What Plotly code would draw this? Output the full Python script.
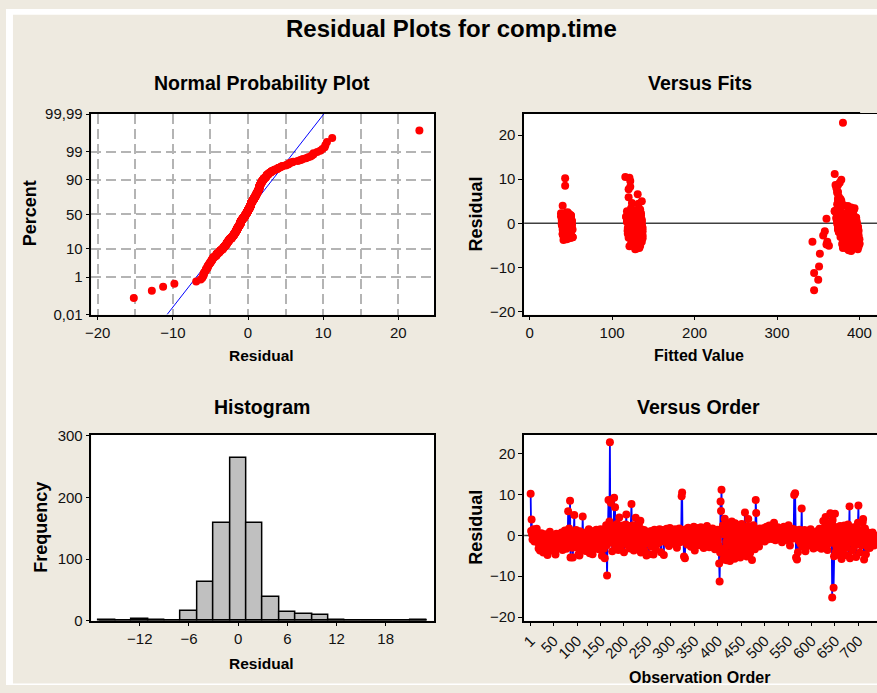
import plotly.graph_objects as go
from statistics import NormalDist, mean, stdev

# ---------------- data ----------------
residuals = [
    10.2, 1.1, 3.9, 0.3, -1.0, 0.8, 1.5, -0.3, -1.5, 0.2, 1.2, -0.9, -0.1, 1.6, -1.4, -0.4,
    -1.8, -3.2, -1.1, -0.2, -3.7, -2.2, -0.8, 0.5, -2.8, -1.5, 0.0, -4.2, -2.0, -0.7, -2.5, 0.3,
    -1.6, -3.0, -0.5, -1.3, -4.8, -1.9, 0.1, -2.6, -1.0, 0.9, -2.1, -3.4, -1.2, -0.3, -1.7, -2.9,
    -0.1, -1.4, -3.9, -0.7, -2.2, -4.7, -1.0, 0.4, -2.7, -1.5, -0.4, -1.3, -3.1, -1.8, 0.2, -0.9,
    -2.4, -1.5, 0.7, -1.1, -3.6, -1.9, -0.5, -2.8, -0.8, 1.2, -1.6, -1.2, -3.3, -0.2, -2.0, -0.6,
    5.9, -1.3, 1.7, -2.6, 8.5, -5.4, 0.4, -1.7, 0.0, -3.0, -5.4, -1.0, 0.6, 5.0, -2.1, -0.5,
    -1.5, 1.3, -1.1, -2.9, 0.3, -1.8, -4.6, -0.7, -4.9, 1.0, -1.2, -2.2, -0.1, -3.2, -0.9, 4.6,
    -1.0, 0.5, -2.5, -1.3, 0.1, -3.8, -1.5, 0.8, -0.8, -2.8, -0.4, -1.9, 1.5, -1.1, -4.4, -0.2,
    -1.4, -2.7, 0.4, -1.0, -4.6, 0.2, -1.7, 1.1, -0.7, -3.1, -0.3, -1.5, 1.4, -1.0, -2.2, 0.3,
    -0.9, -3.4, 0.7, -1.8, -0.6, 1.5, -2.6, -1.2, -5.0, 0.0, -1.6, 0.4, -3.3, -0.8, -5.6, 1.0,
    -1.3, 2.5, -2.4, -9.8, -0.1, 2.0, 8.7, 0.5, 3.4, 22.8, 0.0, 8.0, -1.8, 1.8, -3.9, 1.2,
    -1.0, 2.3, 9.2, 0.3, 6.9, -3.0, 1.6, -0.8, 2.8, -2.0, 0.6, -3.6, 2.1, 4.4, -1.2, 0.9,
    -2.7, 1.9, -0.2, -1.5, 2.4, -0.7, 1.1, -4.1, 1.5, 0.1, -1.9, 2.7, 5.1, -1.0, 0.7, -2.4,
    1.7, -0.5, -1.6, 2.3, -3.2, 0.4, -0.9, 7.7, 1.3, -2.2, 0.2, 2.5, -3.7, 0.8, -1.1, 1.8,
    4.3, -1.4, -0.3, 1.4, -2.9, 1.0, -0.8, 2.8, -1.7, 0.3, 3.6, -4.2, 1.5, -1.3, -0.1, -2.5,
    0.6, -1.0, 1.3, -3.8, 0.0, -2.1, 0.4, -4.9, -0.4, -1.5, 0.9, -1.1, -4.6, 0.3, -1.8, -0.2,
    -0.7, 1.1, -2.8, 0.1, -1.3, 0.5, -4.7, -0.5, 1.4, -1.5, -0.1, -3.3, 0.7, -0.9, 0.2, -2.0,
    1.2, -1.0, -0.3, 1.5, -1.6, 0.3, -4.1, 0.8, -0.6, 0.0, 1.3, -1.4, -4.8, 0.4, -0.5, 1.0,
    -1.2, -0.2, 1.6, -1.9, 0.4, -0.8, 1.1, -2.6, 0.1, 1.8, -1.0, 0.6, -1.5, -0.4, 1.4, -1.3,
    0.9, -0.7, 0.2, -2.1, 1.5, -0.1, -1.1, 0.5, -3.0, 0.3, 1.2, -0.9, -0.5, 1.7, -1.7, 0.0,
    0.7, -0.6, 9.6, 10.5, -0.3, 1.3, -1.5, -5.2, 0.2, -5.6, 1.0, -1.0, 1.5, -0.5, -2.2, 0.4,
    1.9, -0.8, 0.3, -1.8, 1.1, -0.2, -2.8, 1.4, -1.2, 0.6, -0.4, -1.5, 2.1, 0.0, -3.7, 0.8,
    -0.9, 1.5, 0.1, -2.0, 0.4, 1.8, -1.3, -0.3, 1.2, -2.4, -0.1, 2.0, -1.0, 0.5, -1.6, -0.5,
    1.3, -3.1, 0.2, 0.8, -1.0, 1.6, -1.4, -0.2, 2.3, -2.1, 0.4, -0.7, 1.0, -2.9, 0.0, 1.5,
    -1.1, 0.6, -1.7, -0.4, 1.7, -2.6, 0.3, -0.9, 0.9, -3.4, -0.1, 0.4, -1.9, -0.5, 1.4, -1.2,
    0.7, -2.5, -6.9, -11.3, -4.2, 8.3, 6.0, 11.2, 1.6, -4.3, 2.4, -5.9, 0.2, -3.3, 4.1, -5.1,
    1.8, -1.6, -6.1, 2.7, -1.0, 1.2, -4.4, 2.0, -2.6, -6.3, -0.2, 3.1, -2.0, 3.4, -5.3, 0.5,
    -3.6, 1.5, -1.3, -5.7, 3.0, 0.0, -3.0, 1.0, -5.0, 2.1, -1.8, -0.4, -4.2, 2.5, -0.8, -5.4,
    1.1, -2.8, 2.8, -1.5, -4.7, 1.5, -0.1, -3.8, 0.6, 5.6, -2.2, 1.9, -1.1, -5.2, 0.3, 2.3,
    4.0, -3.2, 0.8, -0.9, -4.3, 1.6, -1.7, 0.1, -6.0, 0.4, -2.4, 2.5, -1.2, 1.2, -3.4, -0.3,
    8.7, 5.5, 0.2, -1.9, 1.4, -1.0, 0.7, -2.7, 0.0, 1.7, -0.5, 1.0, -1.3, 1.5, 0.4, -0.7,
    1.1, 0.1, 1.8, -1.5, 0.5, 1.3, -0.2, 2.1, 0.8, -1.0, 0.4, 1.5, 0.2, 2.4, 0.9, -0.3,
    1.4, 0.4, -0.9, 1.9, 0.7, 0.0, 1.2, 3.1, 0.3, 1.6, -1.2, 0.6, 1.3, -0.4, 1.0, 2.0,
    -0.1, 0.8, 1.5, -0.6, 0.4, 1.7, 0.2, 1.1, -1.7, 1.4, 0.5, -0.2, 2.1, 0.9, -0.5, 1.5,
    0.4, -1.1, 1.2, 1.8, 0.0, 0.7, 2.5, -0.4, 1.0, -2.5, 1.3, 0.3, 0.6, 1.6, -0.8, 0.4,
    0.1, 1.5, 9.9, 0.8, 10.3, -0.7, -5.4, 0.4, -5.9, -0.2, -4.1, 1.1, -1.4, 1.4, -1.0, 0.3,
    -2.1, 0.6, 6.6, -0.4, -2.8, 0.9, -1.2, -0.1, 1.3, -1.6, -3.9, 0.2, 1.0, -1.0, -2.6, 0.4,
    -0.5, -1.8, 1.2, -1.3, 0.0, 1.5, -2.4, -0.3, 0.5, -1.5, 0.3, -3.2, 0.8, -0.9, 0.1, -2.0,
    0.7, -0.7, -2.9, 0.2, 1.1, -1.6, -0.5, -1.1, 1.6, -2.2, -0.1, 0.4, -3.3, -0.3, 0.9, -1.0,
    3.5, -1.5, 1.9, -0.2, -2.7, 4.5, 0.4, -1.0, 2.7, -3.6, 0.3, 1.4, -1.9, 3.0, -0.4, 5.4,
    -1.3, 1.7, 1.0, -15.2, 3.8, -1.8, -12.8, -5.1, 2.1, 5.3, -4.2, 0.0, -2.8, 1.1, -0.9, -3.8,
    1.5, -1.4, -4.8, 0.2, 2.3, -2.5, 0.8, -5.8, -0.5, 1.8, -3.4, 0.5, -1.0, 2.4, -2.2, -4.8,
    0.3, 1.6, -3.0, 0.7, -0.8, 2.7, -5.0, -0.1, 7.1, -5.6, 1.2, -1.7, -0.4, 1.3, -3.7, 0.4,
    -1.2, 2.0, -2.7, 0.0, 1.0, -1.8, -5.3, -0.3, 1.5, -1.1, 3.1, 7.3, -1.5, 0.4, -4.2, -0.2,
    1.3, -2.4, 0.6, -1.0, 3.2, 4.0, -2.0, -5.9, 0.2, 1.7, -1.5, -4.6, 0.9, -0.5, -2.8, 0.1,
    -1.6, 0.5, -1.0, -3.1, -0.1, -2.1, 0.3, -0.7, -1.8, 0.7, -1.3, -0.3, -2.5, -1.5, 0.0, -0.9,
]

fitted = [
    43, 375, 386, 120, 384, 41, 394, 132, 380, 48, 386, 126, 392, 43, 375, 135,
    387, 52, 394, 122, 385, 43, 398, 128, 380, 47, 388, 136, 386, 49, 394, 118,
    375, 42, 394, 131, 385, 46, 386, 126, 397, 47, 384, 137, 390, 43, 380, 123,
    376, 52, 394, 127, 385, 400, 380, 131, 390, 40, 392, 121, 377, 49, 385, 133,
    395, 42, 380, 126, 400, 49, 378, 137, 389, 43, 386, 123, 394, 50, 375, 128,
    120, 43, 392, 135, 43, 385, 386, 119, 396, 48, 387, 131, 388, 136, 380, 49,
    378, 39, 391, 126, 383, 46, 400, 136, 384, 46, 388, 122, 392, 45, 375, 124,
    386, 51, 396, 132, 381, 41, 398, 120, 378, 49, 388, 133, 382, 42, 395, 125,
    374, 49, 394, 136, 385, 44, 388, 121, 397, 52, 382, 129, 388, 42, 380, 133,
    377, 48, 389, 119, 384, 48, 398, 131, 384, 40, 389, 124, 395, 45, 380, 135,
    386, 46, 395, 351, 381, 120, 374, 127, 394, 380, 43, 372, 379, 50, 392, 130,
    385, 38, 376, 120, 373, 50, 389, 132, 370, 42, 393, 127, 378, 132, 387, 48,
    399, 43, 382, 123, 387, 50, 377, 130, 374, 42, 392, 131, 378, 46, 394, 119,
    377, 49, 389, 129, 395, 40, 375, 120, 384, 46, 393, 122, 385, 47, 398, 135,
    373, 44, 388, 120, 387, 50, 392, 125, 375, 39, 390, 134, 378, 49, 386, 121,
    395, 42, 381, 134, 389, 49, 378, 128, 376, 45, 389, 136, 388, 50, 397, 122,
    380, 41, 390, 128, 393, 46, 379, 133, 384, 50, 393, 120, 380, 40, 397, 131,
    376, 45, 388, 123, 386, 47, 395, 136, 374, 43, 393, 122, 385, 51, 386, 126,
    397, 39, 380, 132, 389, 48, 377, 122, 376, 40, 391, 132, 384, 48, 394, 126,
    378, 44, 387, 136, 390, 50, 375, 122, 388, 42, 392, 129, 381, 45, 399, 133,
    376, 49, 122, 116, 388, 39, 386, 121, 391, 133, 372, 46, 392, 124, 382, 47,
    384, 43, 396, 137, 381, 51, 392, 120, 379, 39, 376, 128, 388, 48, 387, 131,
    396, 40, 379, 121, 387, 47, 393, 132, 373, 45, 385, 124, 394, 50, 383, 135,
    396, 44, 377, 122, 389, 45, 385, 128, 389, 50, 373, 133, 393, 41, 380, 117,
    387, 45, 398, 130, 380, 48, 389, 125, 377, 45, 376, 136, 392, 51, 382, 122,
    394, 40, 352, 345, 343, 122, 375, 370, 377, 130, 385, 398, 374, 50, 381, 134,
    391, 42, 387, 118, 398, 47, 381, 131, 391, 390, 44, 388, 375, 123, 399, 50,
    384, 41, 387, 130, 393, 46, 385, 121, 394, 48, 380, 128, 380, 131, 391, 388,
    394, 41, 376, 119, 392, 44, 392, 132, 373, 374, 48, 123, 386, 398, 43, 135,
    377, 52, 396, 122, 381, 38, 390, 127, 390, 48, 393, 130, 374, 40, 397, 120,
    371, 377, 48, 133, 379, 44, 385, 127, 396, 49, 382, 134, 390, 41, 378, 122,
    375, 46, 388, 129, 383, 48, 395, 132, 378, 41, 387, 117, 392, 44, 373, 130,
    384, 47, 394, 123, 380, 43, 396, 134, 377, 50, 389, 121, 383, 39, 390, 126,
    373, 48, 392, 131, 380, 40, 386, 119, 398, 47, 381, 132, 387, 44, 378, 124,
    376, 51, 389, 134, 383, 42, 392, 122, 378, 47, 386, 128, 391, 48, 375, 133,
    385, 39, 378, 118, 121, 45, 398, 130, 128, 47, 385, 135, 398, 42, 378, 121,
    390, 51, 131, 127, 387, 39, 392, 131, 372, 49, 398, 120, 379, 42, 389, 132,
    396, 49, 381, 126, 389, 43, 380, 135, 376, 51, 390, 124, 382, 42, 395, 129,
    378, 46, 390, 133, 391, 50, 374, 119, 383, 41, 393, 130, 384, 45, 396, 125,
    374, 48, 386, 136, 387, 376, 391, 122, 370, 45, 394, 126, 382, 129, 386, 375,
    397, 50, 360, 345, 378, 358, 350, 363, 387, 374, 361, 39, 356, 119, 379, 380,
    388, 49, 360, 132, 381, 42, 394, 385, 125, 47, 390, 135, 393, 372, 45, 390,
    393, 49, 384, 122, 398, 126, 382, 42, 374, 394, 45, 134, 384, 48, 395, 118,
    374, 39, 397, 130, 379, 46, 127, 47, 384, 137, 393, 373, 44, 121, 386, 51,
    388, 40, 377, 128, 373, 40, 392, 389, 48, 130, 396, 123, 378, 41, 390, 132,
    394, 48, 375, 127, 385, 45, 393, 135, 383, 50, 398, 122, 380, 43, 388, 129,
]

hist_centers = [-16, -14, -12, -10, -8, -6, -4, -2, 0, 2, 4, 6, 8, 10, 12, 14, 16, 18, 20, 22]
hist_counts = [1, 0, 2, 1, 0, 15, 62, 159, 264, 159, 38, 14, 11, 9, 1, 0, 0, 0, 0, 1]

prob_ticks = [0.01, 1, 10, 50, 90, 99, 99.99]
prob_labels = ["0,01", "1", "10", "50", "90", "99", "99,99"]
order_ticks = [1, 50, 100, 150, 200, 250, 300, 350, 400, 450, 500, 550, 600, 650, 700]

# ---------------- derived ----------------
n = len(residuals)
nd = NormalDist()
sorted_r = sorted(residuals)
zvals = [nd.inv_cdf((i + 1 - 0.3) / (n + 0.4)) for i in range(n)]
mu = mean(residuals)
sd = stdev(residuals)
zlo = nd.inv_cdf(0.0001)
zhi = -zlo
line_x = [mu + sd * zlo, mu + sd * zhi]
prob_z = [nd.inv_cdf(p / 100.0) for p in prob_ticks]
obs = list(range(1, n + 1))

# ---------------- style ----------------
FONT = "Liberation Sans, Arial, sans-serif"
BEIGE = "#EEEAE0"
RED = "#FF0000"
BLUE = "#0000FF"
GRID = "#B4B4B4"
DASH = "10px,5px"
MSIZE = 8

W, H = 877, 693


def px_x(px):
    return px / W


def px_y(py):
    return 1 - py / H


common = dict(showline=True, linecolor="black", linewidth=1.5, ticks="outside",
              ticklen=4, tickwidth=1.2, tickcolor="black", zeroline=False,
              showgrid=False,
              tickfont=dict(family=FONT, size=15, color="#111111"))

fig = go.Figure()

# Normal probability plot
fig.add_trace(go.Scatter(x=line_x, y=[zlo, zhi], mode="lines",
                         line=dict(color=BLUE, width=1), xaxis="x", yaxis="y",
                         showlegend=False, hoverinfo="skip"))
fig.add_trace(go.Scatter(x=sorted_r, y=zvals, mode="markers",
                         marker=dict(color=RED, size=MSIZE), xaxis="x", yaxis="y",
                         showlegend=False))
# Versus fits
fig.add_trace(go.Scatter(x=fitted, y=residuals, mode="markers",
                         marker=dict(color=RED, size=MSIZE), xaxis="x2", yaxis="y2",
                         showlegend=False))
# Histogram
fig.add_trace(go.Bar(x=hist_centers, y=hist_counts, width=[2] * len(hist_centers),
                     marker=dict(color="#C0C0C0", line=dict(color="black", width=1.5)),
                     xaxis="x3", yaxis="y3", showlegend=False))
# Versus order
fig.add_trace(go.Scatter(x=obs, y=residuals, mode="lines+markers",
                         line=dict(color=BLUE, width=1.8),
                         marker=dict(color=RED, size=MSIZE), xaxis="x4", yaxis="y4",
                         showlegend=False))

top_dom = [px_y(313.3), px_y(107.7)]
bot_dom = [px_y(627.0), px_y(436.7)]
left_dom = [px_x(86), px_x(431)]
right_dom = [px_x(521.7), 1.0]

grid_style = dict(showgrid=True, gridcolor=GRID, gridwidth=1.5, griddash=DASH)

fig.update_layout(
    xaxis=dict(common, domain=left_dom, anchor="y", range=[-20.84, 24.75],
               tickvals=[-20, -10, 0, 10, 20], mirror=True, **grid_style,
               minor=dict(tickvals=[-15, -5, 5, 15], showgrid=True, gridcolor=GRID,
                          gridwidth=1.5, griddash=DASH, ticks="")),
    yaxis=dict(common, domain=top_dom, anchor="x", range=[zlo, zhi],
               tickvals=prob_z, ticktext=prob_labels, mirror=True, **grid_style),
    xaxis2=dict(common, domain=right_dom, anchor="y2", range=[-6.75, 421.3],
                tickvals=[0, 100, 200, 300, 400], mirror=True),
    yaxis2=dict(common, domain=top_dom, anchor="x2", range=[-20.73, 24.78],
                tickvals=[-20, -10, 0, 10, 20], mirror=False),
    xaxis3=dict(common, domain=left_dom, anchor="y3", range=[-17.9, 23.9],
                tickvals=[-12, -6, 0, 6, 12, 18], mirror=True),
    yaxis3=dict(common, domain=bot_dom, anchor="x3", range=[0, 301.6],
                tickvals=[0, 100, 200, 300], mirror=True),
    xaxis4=dict(common, domain=right_dom, anchor="y4", range=[-12.9, 739.6],
                tickvals=order_ticks, tickangle=-45, mirror=True),
    yaxis4=dict(common, domain=bot_dom, anchor="x4", range=[-20.88, 24.6],
                tickvals=[-20, -10, 0, 10, 20], mirror=False),
)

shapes = [
    dict(type="line", xref="x2 domain", yref="y2", x0=0, x1=1, y0=0, y1=0,
         line=dict(color="#404040", width=1.5), layer="below"),
    dict(type="line", xref="x4 domain", yref="y4", x0=0, x1=1, y0=0, y1=0,
         line=dict(color="#404040", width=1.5), layer="below"),
    dict(type="line", xref="x3", yref="y3", x0=-17, x1=23, y0=0, y1=0,
         line=dict(color="black", width=3), layer="above"),
    # beige patch at the top right corner (above the Versus Fits frame)
    dict(type="rect", xref="paper", yref="paper", x0=px_x(860), x1=1.0,
         y0=px_y(106.5), y1=px_y(6), fillcolor=BEIGE, line=dict(width=0),
         layer="above"),
    # white strips round the beige card
    dict(type="rect", xref="paper", yref="paper", x0=0, x1=px_x(7), y0=0, y1=1,
         fillcolor="white", line=dict(width=0), layer="above"),
    dict(type="rect", xref="paper", yref="paper", x0=0, x1=1, y0=px_y(6), y1=1,
         fillcolor="white", line=dict(width=0), layer="above"),
    dict(type="rect", xref="paper", yref="paper", x0=0, x1=1, y0=0, y1=px_y(691.5),
         fillcolor="white", line=dict(width=0), layer="above"),
]


def ann(text, x, y, size, angle=0):
    return dict(text="<b>" + text + "</b>", x=px_x(x), y=px_y(y), xref="paper",
                yref="paper", xanchor="center", yanchor="middle", showarrow=False,
                textangle=angle, font=dict(family=FONT, size=size, color="black"))


annotations = [
    ann("Residual Plots for comp.time", 449, 20.5, 24),
    ann("Normal Probability Plot", 257.5, 76, 19.5),
    ann("Versus Fits", 699, 76, 19.5),
    ann("Histogram", 258, 408, 19.5),
    ann("Versus Order", 697.5, 408, 19.5),
    ann("Residual", 257, 355, 15.5),
    ann("Fitted Value", 698, 355, 16),
    ann("Residual", 257, 670.5, 15.5),
    ann("Observation Order", 698, 685, 16),
    ann("Percent", 24.5, 209, 18, -90),
    ann("Residual", 473, 210, 18, -90),
    ann("Frequency", 35.5, 531.5, 18, -90),
    ann("Residual", 473, 531, 18, -90),
]

fig.update_layout(
    width=W, height=H, autosize=False,
    margin=dict(l=0, r=0, t=0, b=0, pad=0),
    paper_bgcolor=BEIGE, plot_bgcolor="white",
    shapes=shapes, annotations=annotations,
    showlegend=False, bargap=0,
    font=dict(family=FONT, color="black"),
)

fig.write_html("out.html", config={"displayModeBar": False})

# keep the page free of default margins and scrollbars; page colour = card colour
with open("out.html", encoding="utf-8") as fh:
    page = fh.read()
page = page.replace(
    "<head>",
    "<head><style>html,body{margin:0;padding:0;overflow:hidden;background:%s;}</style>"
    % BEIGE, 1)
with open("out.html", "w", encoding="utf-8") as fh:
    fh.write(page)
